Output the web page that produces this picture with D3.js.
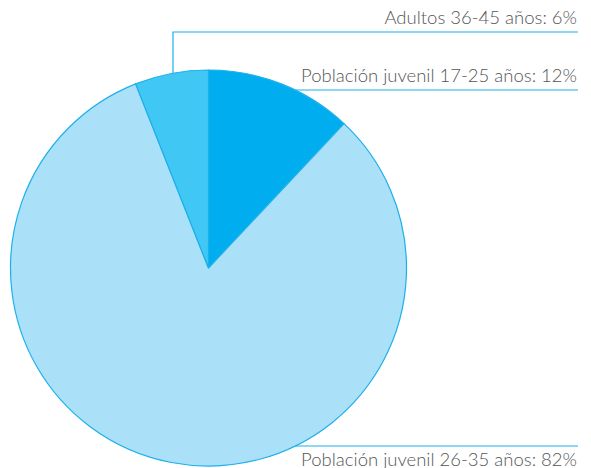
<!DOCTYPE html>
<html>
<head>
<meta charset="utf-8">
<script src="https://cdn.jsdelivr.net/npm/d3@7"></script>
<style>
  body { margin: 0; background: #fff; }
  text { font-family: Lato, "Open Sans", sans-serif; font-weight: 300; fill: #555; }
</style>
</head>
<body>
<svg width="591" height="468"></svg>
<script>
// data
var labels = ["Población juvenil 17-25 años", "Población juvenil 26-35 años", "Adultos 36-45 años"];
var values = [12, 82, 6];
var colors = ["#00aeef", "#abe0f9", "#40c7f4"];

const svg = d3.select("svg");
const cx = 208.5, cy = 268, r = 198;
const lineColor = "#1db0eb";
const rightX = 578;
const fontSize = 18.5;

const pie = d3.pie().sort(null).value(d => d.v);
const arc = d3.arc().innerRadius(0).outerRadius(r);
const arcs = pie(values.map((v, i) => ({v: v, label: labels[i], color: colors[i]})));

const g = svg.append("g").attr("transform", "translate(" + cx + "," + cy + ")");

g.selectAll("path")
    .data(arcs)
    .enter().append("path")
    .attr("d", arc)
    .attr("fill", d => d.data.color)
    .attr("stroke", lineColor)
    .attr("stroke-width", 1.2)
    .attr("stroke-linejoin", "round");

// leader lines + labels
const lab = svg.append("g");

// x where a horizontal line at y meets the right edge of the pie
const edgeX = y => cx + Math.sqrt(Math.max(0, r * r - (y - cy) * (y - cy)));

// 12%
let y1 = 90;
lab.append("line")
    .attr("x1", edgeX(y1)).attr("y1", y1)
    .attr("x2", rightX).attr("y2", y1)
    .attr("stroke", lineColor).attr("stroke-width", 1.2);
lab.append("text")
    .attr("x", rightX - 1).attr("y", y1 - 8)
    .attr("text-anchor", "end")
    .attr("font-size", fontSize)
    .text(arcs[0].data.label + ": " + values[0] + "%");

// 6%
let y3 = 32, vx = 173;
lab.append("path")
    .attr("d", "M" + vx + "," + 73 + "V" + y3 + "H" + rightX)
    .attr("fill", "none")
    .attr("stroke", lineColor).attr("stroke-width", 1.2);
lab.append("text")
    .attr("x", rightX - 1).attr("y", y3 - 8)
    .attr("text-anchor", "end")
    .attr("font-size", fontSize)
    .text(arcs[2].data.label + ": " + values[2] + "%");

// 82%
let y2 = 446;
lab.append("line")
    .attr("x1", edgeX(y2)).attr("y1", y2)
    .attr("x2", rightX).attr("y2", y2)
    .attr("stroke", lineColor).attr("stroke-width", 1.2);
lab.append("text")
    .attr("x", rightX - 1).attr("y", y2 + 20)
    .attr("text-anchor", "end")
    .attr("font-size", fontSize)
    .text(arcs[1].data.label + ": " + values[1] + "%");
</script>
</body>
</html>
